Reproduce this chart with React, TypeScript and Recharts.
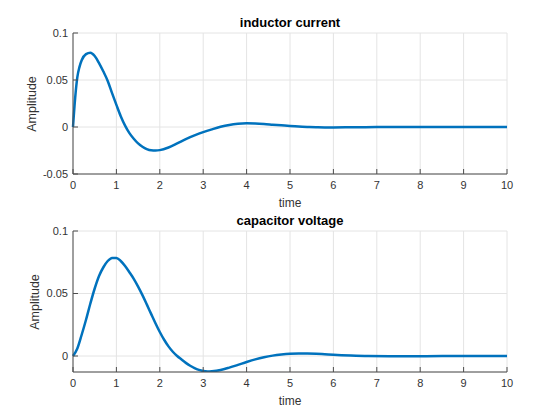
import { CartesianGrid, Line, LineChart, XAxis, YAxis } from "recharts";

// values
const xTicks = [0, 1, 2, 3, 4, 5, 6, 7, 8, 9, 10];
const currentTicks = [-0.05, 0, 0.05, 0.1];
const voltageTicks = [0, 0.05, 0.1];

const currentTime = [
  0, 0.05, 0.1, 0.15, 0.2, 0.3, 0.4, 0.5, 0.6, 0.7, 0.8, 0.9, 1.0, 1.1, 1.2,
  1.3, 1.4, 1.5, 1.6, 1.7, 1.8, 1.9, 2.0, 2.2, 2.4, 2.6, 2.8, 3.0, 3.2, 3.4,
  3.6, 3.8, 4.0, 4.2, 4.4, 4.6, 4.8, 5.0, 5.2, 5.4, 5.6, 5.8, 6.0, 6.5, 7, 8,
  9, 10,
];
const currentAmp = [
  0, 0.031, 0.053, 0.064, 0.071, 0.0775, 0.079, 0.0755, 0.068, 0.059, 0.049,
  0.036, 0.0235, 0.0115, 0.0015, -0.0065, -0.0125, -0.0175, -0.021, -0.0235,
  -0.0248, -0.025, -0.0246, -0.0218, -0.0175, -0.013, -0.009, -0.0055,
  -0.0025, 0.0002, 0.0022, 0.0034, 0.0039, 0.0037, 0.0032, 0.0025, 0.0018,
  0.0011, 0.0005, 0.0001, -0.0002, -0.0004, -0.0004, -0.0003, -0.0001, 0, 0,
  0,
];

const voltageTime = [
  0, 0.1, 0.2, 0.3, 0.4, 0.5, 0.6, 0.7, 0.8, 0.9, 1.0, 1.1, 1.2, 1.3, 1.4,
  1.5, 1.6, 1.7, 1.8, 1.9, 2.0, 2.1, 2.2, 2.3, 2.4, 2.5, 2.6, 2.7, 2.8, 2.9,
  3.0, 3.1, 3.2, 3.4, 3.6, 3.8, 4.0, 4.2, 4.4, 4.6, 4.8, 5.0, 5.2, 5.4, 5.6,
  5.8, 6.0, 6.4, 6.8, 7.5, 8, 9, 10,
];
const voltageAmp = [
  0, 0.006, 0.017, 0.029, 0.042, 0.054, 0.064, 0.071, 0.076, 0.0785, 0.0785,
  0.076, 0.072, 0.067, 0.0617, 0.0555, 0.0487, 0.0413, 0.0337, 0.0262,
  0.0192, 0.013, 0.0077, 0.0034, 0, -0.0028, -0.0055, -0.0078, -0.0097,
  -0.0111, -0.012, -0.0124, -0.0122, -0.0112, -0.0093, -0.0071, -0.0048,
  -0.0027, -0.001, 0.0003, 0.0012, 0.0018, 0.002, 0.002, 0.0018, 0.0014,
  0.001, 0.0004, 0, -0.0002, -0.0002, 0, 0,
];

const currentData = currentTime.map((t, i) => ({ t, v: currentAmp[i] }));
const voltageData = voltageTime.map((t, i) => ({ t, v: voltageAmp[i] }));

const FONT = '"Liberation Sans", Arial, sans-serif';
const AXIS = "#4d4d4d";
const TICK = { fill: "#333", fontSize: 11, fontFamily: FONT };

type PanelProps = {
  title: string;
  data: { t: number; v: number }[];
  yDomain: [number, number];
  yTicks: number[];
  top: number;
  marginTop: number;
  marginBottom: number;
  ylabelX: number;
};

function Panel({ title, data, yDomain, yTicks, top, marginTop, marginBottom, ylabelX }: PanelProps) {
  const plotBottom = 210 - marginBottom - 30;
  const plotMid = (marginTop + plotBottom) / 2;
  return (
    <div style={{ position: "absolute", left: 0, top, width: 560, height: 210 }}>
      <LineChart
        width={560}
        height={210}
        data={data}
        margin={{ top: marginTop, right: 53, bottom: marginBottom, left: 0 }}
      >
        <CartesianGrid stroke="#e4e4e4" />
        <XAxis
          dataKey="t"
          type="number"
          domain={[0, 10]}
          ticks={xTicks}
          interval={0}
          height={30}
          tickSize={-5}
          tickMargin={12}
          stroke={AXIS}
          tick={TICK}
        />
        <XAxis
          xAxisId="top"
          orientation="top"
          dataKey="t"
          type="number"
          domain={[0, 10]}
          ticks={xTicks}
          interval={0}
          height={0}
          tickSize={-5}
          tickFormatter={() => ""}
          stroke={AXIS}
        />
        <YAxis
          type="number"
          domain={yDomain}
          ticks={yTicks}
          interval={0}
          allowDataOverflow
          width={73}
          tickSize={-5}
          tickMargin={10}
          stroke={AXIS}
          tick={TICK}
        />
        <YAxis
          yAxisId="right"
          orientation="right"
          type="number"
          domain={yDomain}
          ticks={yTicks}
          interval={0}
          allowDataOverflow
          width={0}
          tickSize={-5}
          tickFormatter={() => ""}
          stroke={AXIS}
        />
        <Line
          type="monotone"
          dataKey="v"
          stroke="#0072BD"
          strokeWidth={2.5}
          dot={false}
          activeDot={false}
          isAnimationActive={false}
        />
      </LineChart>
      <div
        style={{
          position: "absolute",
          left: 73,
          width: 434,
          top: marginTop - 18,
          height: 16,
          lineHeight: "16px",
          textAlign: "center",
          fontFamily: FONT,
          fontWeight: "bold",
          fontSize: 13,
          color: "#000",
        }}
      >
        {title}
      </div>
      <div
        style={{
          position: "absolute",
          left: 73,
          width: 434,
          top: plotBottom + 21,
          height: 16,
          lineHeight: "16px",
          textAlign: "center",
          fontFamily: FONT,
          fontSize: 12,
          color: "#333",
        }}
      >
        time
      </div>
      <div
        style={{
          position: "absolute",
          left: ylabelX - 40,
          top: plotMid - 8,
          width: 80,
          height: 16,
          lineHeight: "16px",
          textAlign: "center",
          fontFamily: FONT,
          fontSize: 12.5,
          color: "#333",
          transform: "rotate(-90deg)",
        }}
      >
        Amplitude
      </div>
    </div>
  );
}

export default function App() {
  return (
    <div style={{ position: "absolute", left: 0, top: 0, width: 560, height: 420, background: "#fff" }}>
      <Panel
        title="inductor current"
        data={currentData}
        yDomain={[-0.05, 0.1]}
        yTicks={currentTicks}
        top={0}
        marginTop={33}
        marginBottom={6}
        ylabelX={32}
      />
      <Panel
        title="capacitor voltage"
        data={voltageData}
        yDomain={[-0.0128, 0.1]}
        yTicks={voltageTicks}
        top={210}
        marginTop={21}
        marginBottom={18}
        ylabelX={35}
      />
    </div>
  );
}
